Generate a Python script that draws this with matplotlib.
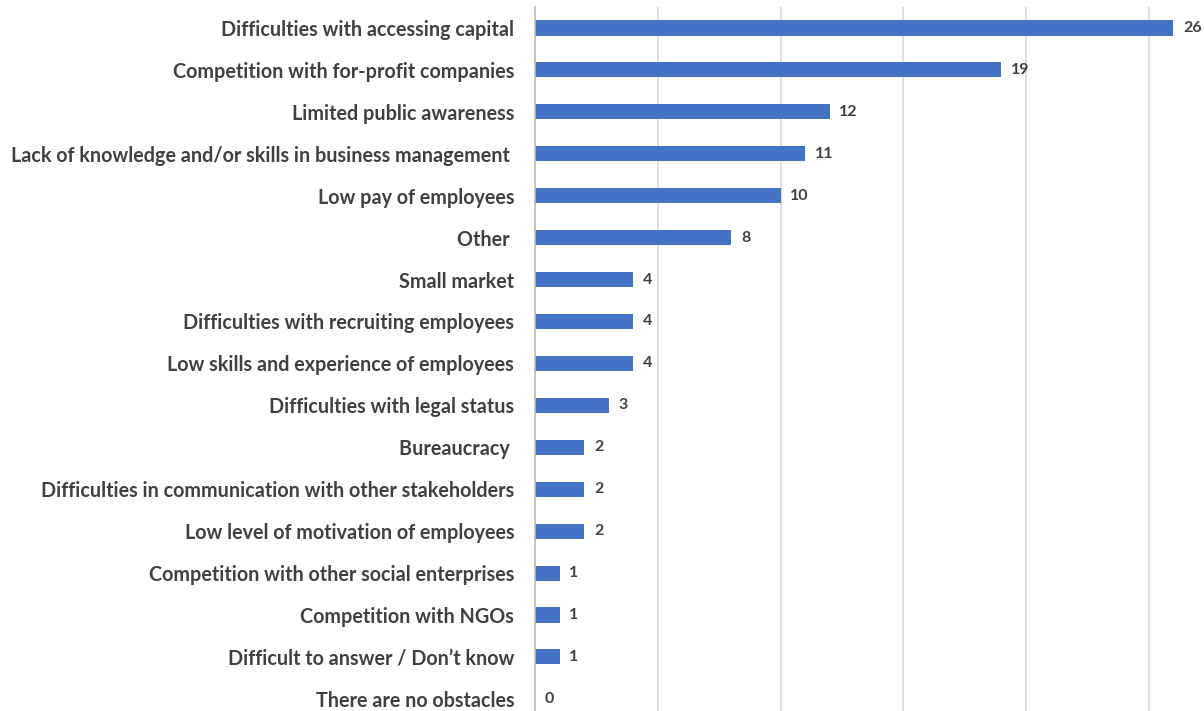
import matplotlib
matplotlib.use("Agg")
import matplotlib.pyplot as plt

categories = [
    "Difficulties with accessing capital",
    "Competition with for-profit companies",
    "Limited public awareness",
    "Lack of knowledge and/or skills in business management ",
    "Low pay of employees",
    "Other ",
    "Small market",
    "Difficulties with recruiting employees",
    "Low skills and experience of employees",
    "Difficulties with legal status",
    "Bureaucracy ",
    "Difficulties in communication with other stakeholders",
    "Low level of motivation of employees",
    "Competition with other social enterprises",
    "Competition with NGOs",
    "Difficult to answer / Don\u2019t know",
    "There are no obstacles",
]
counts = [26, 19, 12, 11, 10, 8, 4, 4, 4, 3, 2, 2, 2, 1, 1, 1, 0]

plt.rcParams['font.family'] = ['Lato', 'DejaVu Sans']
textcol = '#404040'

fig = plt.figure(figsize=(12.04, 7.11), dpi=100)
ax = fig.add_axes([535 / 1204, 0, 669 / 1204, 704 / 711])

ypos = list(range(len(categories)))
ax.barh(ypos, counts, height=0.36, color='#4472C4', zorder=3)

for y, v in zip(ypos, counts):
    ax.text(v + 0.4, y, str(v), va='center', ha='left',
            fontsize=11.5, fontweight='bold', color=textcol)

ax.set_xlim(0, 27.25)
ax.set_ylim(16.29, -0.5)
ax.set_xticks([0, 5, 10, 15, 20, 25])
ax.set_xticklabels([])
ax.tick_params(axis='x', length=0)
ax.grid(axis='x', color='#d9d9d9', linewidth=1.2, zorder=0)

ax.set_yticks(ypos)
ax.set_yticklabels(categories, fontsize=14.2, fontweight='bold', color=textcol)
ax.tick_params(axis='y', length=0, pad=15)

for s in ['top', 'right', 'bottom']:
    ax.spines[s].set_visible(False)
ax.spines['left'].set_color('#bfbfbf')
ax.spines['left'].set_linewidth(1.2)
ax.spines['left'].set_zorder(4)

fig.savefig('out.png', dpi=100)
